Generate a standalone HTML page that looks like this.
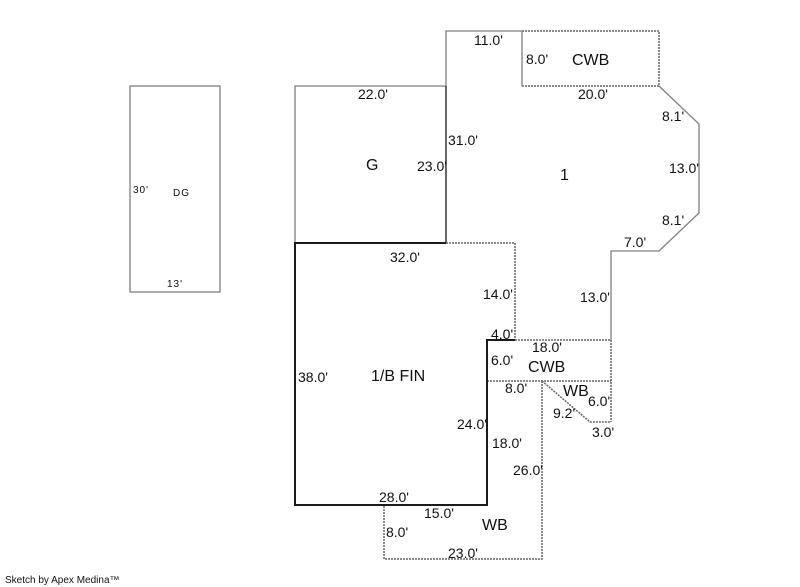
<!DOCTYPE html>
<html><head><meta charset="utf-8"><style>
html,body{margin:0;padding:0;background:#fff;width:800px;height:587px;overflow:hidden}
svg{display:block}
text{font-family:"Liberation Sans",Arial,sans-serif;fill:#111}
.d{font-size:14px}
.r{font-size:16px}
.s{font-size:10px;letter-spacing:1px}
</style></head><body>
<svg width="800" height="587" viewBox="0 0 800 587" xmlns="http://www.w3.org/2000/svg">
<g fill="none" stroke="#808080" stroke-width="1.3">
<rect x="130" y="86" width="90" height="206"/>
<polyline points="446,86 295,86 295,243"/>
<polyline points="446,86 446,31 522,31 522,86"/>
<polyline points="659,86 699,124 699,213 659,251 611,251 611,340"/>
</g>
<line x1="446" y1="86" x2="446" y2="243" stroke="#333" stroke-width="1.5"/>
<g fill="none" stroke="#666" stroke-width="1.5" stroke-dasharray="2,1">
<polyline points="522,31 659,31 659,86 522,86"/>
<polyline points="446,243 515,243 515,340"/>
<polyline points="515,340 611,340 611,422"/>
<line x1="487" y1="381" x2="611" y2="381"/>
<polyline points="542,381 590,422 611,422"/>
<polyline points="542,381 542,559 384,559 384,505"/>
</g>
<g fill="none" stroke="#1a1a1a" stroke-width="2">
<polyline points="446,243 295,243 295,505 487,505 487,340 515,340"/>
</g>
<g class="d">
<text x="474" y="45">11.0'</text>
<text x="526" y="64">8.0'</text>
<text x="358" y="99">22.0'</text>
<text x="578" y="99">20.0'</text>
<text x="662" y="121">8.1'</text>
<text x="448" y="145">31.0'</text>
<text x="417" y="171">23.0'</text>
<text x="669" y="173">13.0'</text>
<text x="662" y="225">8.1'</text>
<text x="624" y="247">7.0'</text>
<text x="390" y="262">32.0'</text>
<text x="483" y="299">14.0'</text>
<text x="580" y="302">13.0'</text>
<text x="491" y="339">4.0'</text>
<text x="532" y="352">18.0'</text>
<text x="491" y="365">6.0'</text>
<text x="298" y="382">38.0'</text>
<text x="505" y="393">8.0'</text>
<text x="588" y="406">6.0'</text>
<text x="553" y="418">9.2'</text>
<text x="457" y="429">24.0'</text>
<text x="592" y="437">3.0'</text>
<text x="492" y="448">18.0'</text>
<text x="513" y="475">26.0'</text>
<text x="379" y="502">28.0'</text>
<text x="424" y="518">15.0'</text>
<text x="386" y="537">8.0'</text>
<text x="448" y="558">23.0'</text>
</g>
<g class="r">
<text x="572" y="65">CWB</text>
<text x="366" y="170">G</text>
<text x="560" y="180">1</text>
<text x="528" y="372">CWB</text>
<text x="371" y="381">1/B FIN</text>
<text x="563" y="396">WB</text>
<text x="482" y="530">WB</text>
</g>
<g class="s">
<text x="133" y="193">30'</text>
<text x="173" y="196">DG</text>
<text x="167" y="287">13'</text>
</g>
<text x="5" y="583" style="font-size:10px">Sketch by Apex Medina™</text>
</svg>
</body></html>
